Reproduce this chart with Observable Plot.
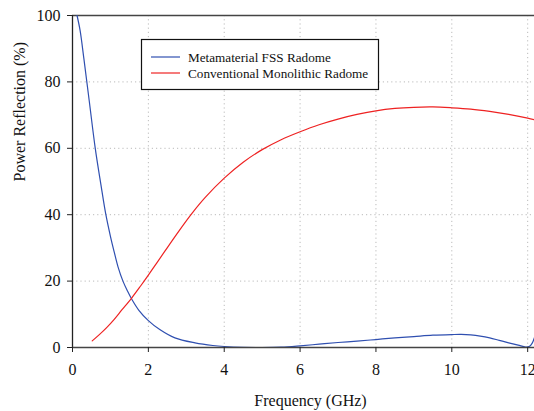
<!DOCTYPE html>
<html>
<head>
<meta charset="utf-8">
<script src="https://cdn.jsdelivr.net/npm/d3@7"></script>
<script src="https://cdn.jsdelivr.net/npm/@observablehq/plot@0.6"></script>
<style>
  html, body { margin: 0; padding: 0; background: #fff; }
  #chart { width: 534px; height: 411px; overflow: hidden; }
</style>
</head>
<body>
<div id="chart"></div>
<script>
const seriesNames = ["Metamaterial FSS Radome", "Conventional Monolithic Radome"];
const seriesColors = ["#2f4fb0", "#ee2222"];

const fssFreq = [0.12, 0.2, 0.3, 0.44, 0.6, 0.75, 0.88, 1.0, 1.09, 1.2, 1.33, 1.45, 1.56, 1.75, 2.0, 2.3, 2.7, 3.23, 3.7, 4.0, 4.5, 5.0, 5.5, 6.0, 6.5, 7.0, 7.5, 8.0, 8.5, 9.0, 9.5, 10.0, 10.25, 10.5, 10.75, 11.0, 11.25, 11.5, 11.75, 11.95, 12.05, 12.12, 12.18];
const fssVal  = [100, 95.5, 87, 74.4, 60, 49, 40, 33.5, 29.2, 24.3, 20, 17, 14.6, 11.2, 8.1, 5.4, 2.9, 1.4, 0.6, 0.3, 0.05, 0, 0.1, 0.5, 1.0, 1.5, 1.9, 2.4, 2.9, 3.3, 3.7, 3.9, 3.95, 3.8, 3.45, 2.9, 2.15, 1.4, 0.7, 0.15, 0.35, 1.3, 3.0];

const monoFreq = [0.52, 0.7, 0.9, 1.1, 1.3, 1.56, 1.8, 2.0, 2.2, 2.44, 2.8, 3.15, 3.5, 4.0, 4.5, 5.0, 5.5, 6.0, 6.5, 7.0, 7.5, 8.0, 8.5, 9.0, 9.5, 10.0, 10.5, 11.0, 11.5, 12.0, 12.18];
const monoVal  = [2.0, 3.8, 6.0, 8.5, 11.3, 14.9, 18.6, 21.8, 25.1, 29.1, 35.0, 40.4, 45.2, 51.0, 55.8, 59.6, 62.6, 65.0, 67.1, 68.8, 70.2, 71.3, 72.0, 72.35, 72.45, 72.2, 71.8, 71.1, 70.2, 69.1, 68.6];

const xTicks = [0, 2, 4, 6, 8, 10, 12];
const yTicks = [0, 20, 40, 60, 80, 100];
const xLabel = "Frequency (GHz)";
const yLabel = "Power Reflection (%)";

const fss = fssFreq.map((f, i) => ({f, v: fssVal[i], s: seriesNames[0]}));
const mono = monoFreq.map((f, i) => ({f, v: monoVal[i], s: seriesNames[1]}));

const font = "'Liberation Serif', 'Times New Roman', serif";

const plot = Plot.plot({
  width: 534,
  height: 411,
  marginLeft: 72,
  marginRight: 0,
  marginTop: 15,
  marginBottom: 64,
  style: {fontFamily: font, fontSize: "16px", color: "#111", background: "#fff", overflow: "hidden"},
  x: {domain: [0, 12.18]},
  y: {domain: [0, 100]},
  marks: [
    Plot.gridX(xTicks.filter(d => d > 0), {stroke: "#bbb", strokeOpacity: 1, strokeDasharray: "1.2,3"}),
    Plot.gridY(yTicks.filter(d => d > 0 && d < 100), {stroke: "#bbb", strokeOpacity: 1, strokeDasharray: "1.2,3"}),
    Plot.ruleY([100], {stroke: "#444", strokeWidth: 1.3}),
    Plot.line(fss, {x: "f", y: "v", stroke: seriesColors[0], strokeWidth: 1.2, curve: "catmull-rom"}),
    Plot.line(mono, {x: "f", y: "v", stroke: seriesColors[1], strokeWidth: 1.2, curve: "catmull-rom"}),
    Plot.ruleX([0], {stroke: "#222", strokeWidth: 1.3}),
    Plot.ruleY([0], {stroke: "#444", strokeWidth: 1.6}),
    Plot.axisX({ticks: xTicks, tickSize: 5, tickPadding: 11, fontSize: 16, fontFamily: font, label: null, stroke: "#222"}),
    Plot.axisY({ticks: yTicks, tickSize: 5, tickPadding: 7, fontSize: 16, fontFamily: font, label: null, stroke: "#222"}),
    Plot.text([xLabel], {frameAnchor: "bottom", dx: 7, dy: 58, fontSize: 16, fontFamily: font, text: d => d}),
    Plot.text([yLabel], {frameAnchor: "left", dx: -53, rotate: -90, fontSize: 16, fontFamily: font, text: d => d})
  ]
});

document.getElementById("chart").appendChild(plot);

// legend box
const svg = d3.select(plot);
const lg = svg.append("g").attr("font-family", font).attr("font-size", 13.2).attr("text-anchor", "start");
lg.append("rect").attr("x", 141.5).attr("y", 39.5).attr("width", 237).attr("height", 50)
  .attr("fill", "#fff").attr("stroke", "#111").attr("stroke-width", 1.2);
seriesNames.forEach((name, i) => {
  const y = 57 + i * 16;
  lg.append("line").attr("x1", 151).attr("x2", 180).attr("y1", y).attr("y2", y)
    .attr("stroke", seriesColors[i]).attr("stroke-width", 1.2);
  lg.append("text").attr("x", 188).attr("y", y + 4.5).attr("fill", "#111").attr("text-anchor", "start").text(name);
});
</script>
</body>
</html>
